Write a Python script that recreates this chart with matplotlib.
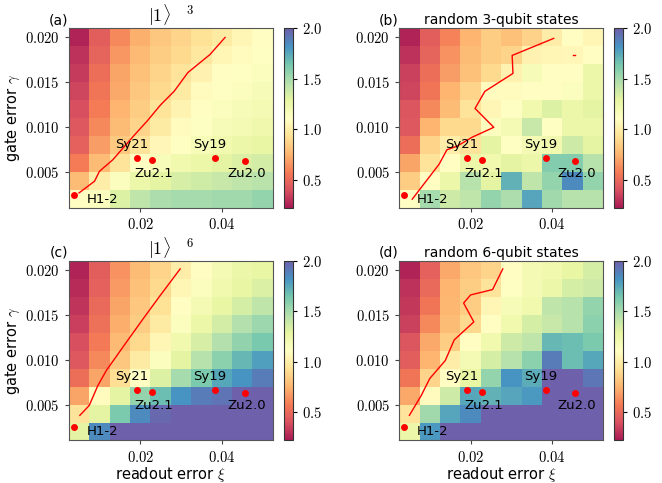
import numpy as np
import matplotlib
matplotlib.use("Agg")
import matplotlib.pyplot as plt
from matplotlib.ticker import FuncFormatter

plt.rcParams['mathtext.fontset'] = 'cm'
plt.rcParams['font.family'] = 'DejaVu Sans'

# grid of noise parameters (cell centres)
readout_err = [0.005, 0.010, 0.015, 0.020, 0.025, 0.030, 0.035, 0.040, 0.045, 0.050]
gate_err = [0.002, 0.004, 0.006, 0.008, 0.010, 0.012, 0.014, 0.016, 0.018, 0.020]

# ratio maps, rows listed from gate error 0.020 down to 0.002
ratio_a = [
    [0.25, 0.45, 0.62, 0.74, 0.82, 0.88, 0.93, 0.98, 1.05, 1.10],
    [0.30, 0.48, 0.66, 0.77, 0.85, 0.90, 0.97, 1.05, 1.08, 1.12],
    [0.33, 0.52, 0.70, 0.80, 0.88, 0.95, 1.03, 1.10, 1.12, 1.15],
    [0.36, 0.55, 0.72, 0.82, 0.90, 0.98, 1.08, 1.12, 1.15, 1.18],
    [0.40, 0.58, 0.75, 0.85, 0.94, 1.04, 1.10, 1.15, 1.18, 1.20],
    [0.43, 0.62, 0.78, 0.88, 0.98, 1.08, 1.13, 1.18, 1.20, 1.23],
    [0.47, 0.68, 0.83, 0.95, 1.06, 1.12, 1.18, 1.22, 1.25, 1.28],
    [0.58, 0.78, 0.95, 1.10, 1.17, 1.22, 1.26, 1.30, 1.33, 1.36],
    [0.78, 1.00, 1.15, 1.25, 1.30, 1.34, 1.37, 1.40, 1.42, 1.44],
    [1.10, 1.15, 1.32, 1.42, 1.48, 1.50, 1.50, 1.52, 1.52, 1.55],
]
ratio_b = [
    [0.25, 0.45, 0.60, 0.75, 0.85, 0.80, 0.87, 1.00, 1.10, 1.05],
    [0.30, 0.48, 0.65, 0.78, 0.85, 0.88, 1.02, 1.05, 1.06, 1.10],
    [0.35, 0.52, 0.68, 0.80, 0.90, 1.02, 1.18, 1.10, 1.10, 1.25],
    [0.36, 0.55, 0.75, 0.88, 1.08, 1.08, 1.10, 1.10, 1.15, 1.25],
    [0.42, 0.62, 0.78, 0.95, 1.05, 1.12, 1.22, 1.32, 1.25, 1.30],
    [0.43, 0.75, 0.90, 0.90, 1.15, 1.20, 1.40, 1.12, 1.25, 1.25],
    [0.52, 0.88, 1.00, 0.95, 1.30, 1.12, 1.20, 1.22, 1.38, 1.30],
    [0.70, 0.95, 1.10, 1.25, 1.22, 1.30, 1.25, 1.60, 1.60, 1.45],
    [0.85, 1.10, 1.25, 1.45, 1.30, 1.72, 1.42, 1.55, 1.85, 1.55],
    [1.12, 1.50, 1.38, 1.42, 1.55, 1.48, 1.76, 1.52, 1.45, 1.45],
]
ratio_c = [
    [0.25, 0.45, 0.65, 0.78, 0.88, 1.00, 1.10, 1.20, 1.25, 1.28],
    [0.28, 0.47, 0.67, 0.80, 0.90, 1.05, 1.15, 1.22, 1.28, 1.33],
    [0.31, 0.50, 0.70, 0.82, 0.93, 1.10, 1.20, 1.28, 1.35, 1.42],
    [0.34, 0.53, 0.73, 0.85, 0.98, 1.15, 1.26, 1.36, 1.46, 1.53],
    [0.40, 0.57, 0.77, 0.90, 1.05, 1.22, 1.34, 1.46, 1.56, 1.63],
    [0.43, 0.62, 0.82, 0.98, 1.15, 1.30, 1.45, 1.58, 1.70, 1.78],
    [0.52, 0.70, 0.92, 1.12, 1.32, 1.50, 1.62, 1.75, 1.82, 1.90],
    [0.70, 1.08, 1.30, 1.55, 1.68, 1.82, 1.90, 1.93, 2.30, 2.30],
    [0.95, 1.30, 1.62, 1.85, 1.97, 2.30, 2.30, 2.30, 2.30, 2.30],
    [1.30, 1.85, 2.30, 2.30, 2.30, 2.30, 2.30, 2.30, 2.30, 2.30],
]
ratio_d = [
    [0.25, 0.47, 0.72, 0.82, 0.88, 1.10, 1.20, 1.22, 1.28, 1.35],
    [0.30, 0.50, 0.75, 0.85, 0.95, 1.12, 1.20, 1.25, 1.35, 1.38],
    [0.32, 0.55, 0.76, 0.85, 1.05, 1.18, 1.22, 1.42, 1.45, 1.55],
    [0.35, 0.62, 0.78, 0.90, 1.10, 1.22, 1.35, 1.40, 1.45, 1.58],
    [0.42, 0.72, 0.85, 1.10, 1.22, 1.38, 1.42, 1.70, 1.68, 1.62],
    [0.45, 0.75, 1.00, 1.20, 1.35, 1.45, 1.58, 1.90, 1.68, 1.75],
    [0.55, 0.88, 1.10, 1.28, 1.55, 1.82, 1.74, 2.05, 2.05, 1.92],
    [0.72, 1.08, 1.38, 1.75, 1.72, 1.76, 1.80, 2.30, 2.30, 2.30],
    [0.95, 1.52, 1.76, 1.85, 2.30, 2.30, 2.30, 2.30, 2.30, 2.30],
    [1.25, 1.80, 2.30, 2.30, 2.30, 2.30, 2.30, 2.30, 2.30, 2.30],
]

# boundary curves
line_a_x = [0.0050, 0.0088, 0.0100, 0.0133, 0.0183, 0.0217, 0.0250, 0.0283, 0.0317, 0.0371, 0.0408]
line_a_y = [0.0027, 0.0040, 0.0051, 0.0064, 0.0090, 0.0107, 0.0125, 0.0140, 0.0161, 0.0181, 0.0200]
line_b_x = [0.0057, 0.0123, 0.0142, 0.0167, 0.0204, 0.0257, 0.0211, 0.0235, 0.0304, 0.0302, 0.0404]
line_b_y = [0.0020, 0.0059, 0.0075, 0.0079, 0.0089, 0.0100, 0.0121, 0.0140, 0.0160, 0.0180, 0.0199]
line_b2_x = [0.0451, 0.0455]
line_b2_y = [0.0180, 0.0180]
line_c_x = [0.0052, 0.0075, 0.0096, 0.0117, 0.0167, 0.0208, 0.0250, 0.0298]
line_c_y = [0.0038, 0.0049, 0.0071, 0.0088, 0.0120, 0.0146, 0.0172, 0.0201]
line_d_x = [0.0050, 0.0079, 0.0100, 0.0138, 0.0160, 0.0208, 0.0183, 0.0200, 0.0254, 0.0279]
line_d_y = [0.0038, 0.0060, 0.0079, 0.0099, 0.0122, 0.0142, 0.0163, 0.0172, 0.0178, 0.0201]

# devices
dev_names = ["H1-2", "Sy21", "Zu2.1", "Sy19", "Zu2.0"]
dev_xi = [0.0038, 0.0192, 0.0228, 0.0384, 0.0457]
dev_gamma = [0.0025, 0.0066, 0.0064, 0.0066, 0.0063]
label_xy = [(0.0108, 0.0020), (0.0179, 0.0081), (0.0233, 0.0049),
            (0.0371, 0.0081), (0.0461, 0.0049)]

panels = [
    ("(a)", r"$|1\rangle^{\quad\ 3}$", ratio_a, [(line_a_x, line_a_y)]),
    ("(b)", "random 3-qubit states", ratio_b, [(line_b_x, line_b_y), (line_b2_x, line_b2_y)]),
    ("(c)", r"$|1\rangle^{\quad\ 6}$", ratio_c, [(line_c_x, line_c_y)]),
    ("(d)", "random 6-qubit states", ratio_d, [(line_d_x, line_d_y)]),
]

x_edges = np.append(np.array(readout_err) - 0.0025, readout_err[-1] + 0.0025)
y_edges = np.append(np.array(gate_err) - 0.001, gate_err[-1] + 0.001)

fig = plt.figure(figsize=(6.62, 4.83), dpi=100)
ax_pos = [(0.104, 0.569), (0.603, 0.569), (0.104, 0.088), (0.603, 0.088)]
w, h = 0.308, 0.372
math_fmt = FuncFormatter(lambda v, p: r"$%s$" % ("%.3f" % v))
math_fmt_x = FuncFormatter(lambda v, p: r"$%s$" % ("%.2f" % v))
math_fmt_c = FuncFormatter(lambda v, p: r"$%s$" % ("%.1f" % v))

for i, (tag, title, data, lines) in enumerate(panels):
    left, bottom = ax_pos[i]
    ax = fig.add_axes([left, bottom, w, h])
    cax = fig.add_axes([left + 0.325, bottom, 0.0136, h])
    z = np.array(data)[::-1]
    mesh = ax.pcolormesh(x_edges, y_edges, z, cmap="Spectral", vmin=0.22, vmax=2.0,
                         alpha=0.9, edgecolors="none")
    for lx, ly in lines:
        ax.plot(lx, ly, color="red", lw=1.0)
    ax.plot(dev_xi, dev_gamma, "o", color="red", ms=5, mec="none")
    for name, (tx, ty) in zip(dev_names, label_xy):
        ax.text(tx, ty, name, ha="center", va="center", fontsize=9.5)
    ax.set_xlim(x_edges[0], x_edges[-1])
    ax.set_ylim(y_edges[0], y_edges[-1])
    ax.set_xticks([0.02, 0.04])
    ax.set_yticks([0.005, 0.010, 0.015, 0.020])
    ax.xaxis.set_major_formatter(math_fmt_x)
    ax.yaxis.set_major_formatter(math_fmt)
    ax.tick_params(labelsize=10.5, length=3, color="#444444")
    for sp in ax.spines.values():
        sp.set_color("#555555")
    if title.startswith("$"):
        ax.set_title(title, fontsize=13, pad=1)
    else:
        ax.set_title(title, fontsize=10, pad=3)
    ax.text(-0.005, 1.005, tag, transform=ax.transAxes, ha="right", va="bottom", fontsize=10)
    if i % 2 == 0:
        ax.set_ylabel(r"gate error $\gamma$", fontsize=10.5, labelpad=2)
    if i >= 2:
        ax.set_xlabel(r"readout error $\xi$", fontsize=10.5, labelpad=0)
    cb = fig.colorbar(mesh, cax=cax, ticks=[0.5, 1.0, 1.5, 2.0])
    cb.ax.yaxis.set_major_formatter(math_fmt_c)
    cb.ax.tick_params(labelsize=10.5, length=3)
    cb.outline.set_color("#333333")

fig.savefig("out.png", dpi=100)
